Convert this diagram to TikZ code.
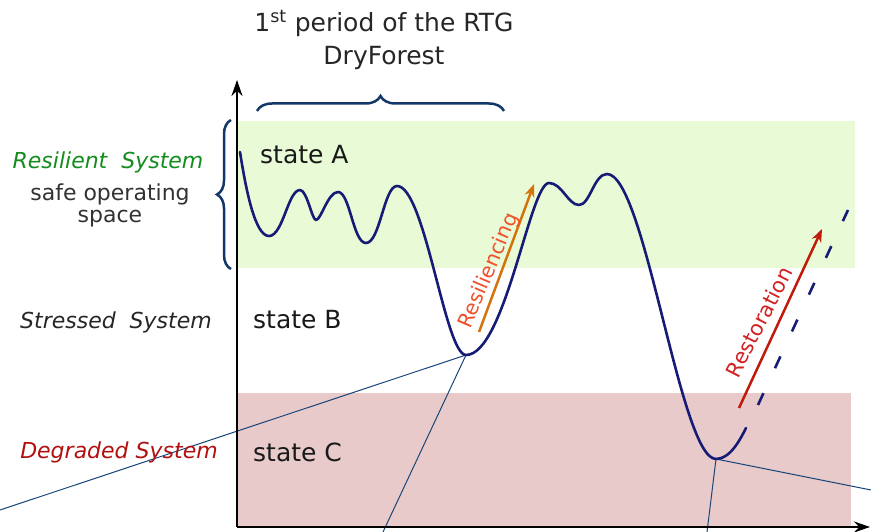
\documentclass[tikz,border=0pt]{standalone}
\usepackage{fontspec}
\setmainfont{DejaVu Sans}
\usetikzlibrary{arrows.meta,decorations.pathreplacing}
\definecolor{curvec}{RGB}{22,28,118}
\definecolor{bracec}{RGB}{20,55,105}
\definecolor{thinc}{RGB}{25,70,120}
\definecolor{greenband}{RGB}{232,250,214}
\definecolor{redband}{RGB}{233,202,202}
\definecolor{resilc}{RGB}{20,140,30}
\definecolor{degc}{RGB}{176,16,16}
\definecolor{greyc}{RGB}{50,50,50}
\definecolor{resarrow}{RGB}{212,115,11}
\definecolor{restext}{RGB}{240,80,42}
\definecolor{restarrow}{RGB}{192,26,10}
\definecolor{resttext}{RGB}{212,32,32}
\begin{document}
\begin{tikzpicture}[x=1pt,y=-1pt,
  lbl/.style={font=\fontsize{22}{24}\selectfont\itshape, inner sep=0pt},
  statelbl/.style={font=\fontsize{25}{28}\selectfont, anchor=west, inner sep=0pt, text=black!90},
  thin/.style={draw=thinc, line width=1pt},
  bracestyle/.style={draw=bracec, line width=2.5pt, decorate},
  axisline/.style={draw=black, line width=2pt, -{Stealth[length=16pt,width=11pt]}},
  arr/.style={line width=2.5pt, -{Stealth[length=13pt,width=10pt]}}
]
\useasboundingbox (0,0) rectangle (871,532);
% bands
\fill[greenband] (237,121) rectangle (855,268);
\fill[redband] (237,393) rectangle (851,527);
% key points
\coordinate (minB) at (466,355);
\coordinate (minC) at (716,459);
\coordinate (fL) at (0,510);
\coordinate (fB) at (383,532);
\coordinate (fC) at (707,532);
\coordinate (fR) at (871,490);
\draw[thin] (minB) -- (fL);
\draw[thin] (minB) -- (fB);
\draw[thin] (minC) -- (fC);
\draw[thin] (minC) -- (fR);
% curve
\draw[curvec, line width=2.6pt, line cap=round, line join=round]
 (240,152) .. controls (246,190) and (255,236) .. (269,236)
 .. controls (283,236) and (288,190) .. (300,190)
 .. controls (307,190) and (312,220) .. (316,220)
 .. controls (321,220) and (328,192) .. (338,192)
 .. controls (350,192) and (353,243) .. (366,243)
 .. controls (380,243) and (384,186) .. (397,186)
 .. controls (425,186) and (445,355) .. (minB)
 .. controls (505,355) and (530,183) .. (549,183)
 .. controls (562,183) and (568,205) .. (579,205)
 .. controls (590,205) and (594,174) .. (607,174)
 .. controls (645,174) and (680,459) .. (minC)
 .. controls (730,459) and (740,440) .. (746,428);
% dashed continuation
\coordinate (dS) at (758,405);
\coordinate (dE) at (848,210);
\draw[curvec, line width=2.6pt, dash pattern=on 13pt off 27.5pt] (dS) -- (dE);
% axes
\coordinate (origin) at (237,527);
\coordinate (ytip) at (237,80);
\coordinate (xtip) at (870,527);
\draw[axisline] (origin) -- (ytip);
\draw[axisline] (origin) -- (xtip);
% braces
\draw[bracestyle, decoration={brace, amplitude=15pt}] (257,111) -- (504,111);
\draw[bracestyle, decoration={brace, amplitude=14pt}] (231,269) -- (231,120);
% arrows
\coordinate (rs1) at (479,332);
\coordinate (rs2) at (534,184);
\draw[arr, resarrow] (rs1) -- (rs2);
\coordinate (rt1) at (739,408);
\coordinate (rt2) at (822,229);
\draw[arr, restarrow] (rt1) -- (rt2);
\node[rotate=67, text=restext, font=\fontsize{20.5}{22}\selectfont, inner sep=0pt] (tres) at (489,271) {Resiliencing};
\node[rotate=63, text=resttext, font=\fontsize{21}{22}\selectfont, inner sep=0pt] (trest) at (759,322) {Restoration};
% titles
\node[font=\fontsize{25}{33}\selectfont, text=black!85, align=center, inner sep=0pt] (title) at (384,40) {1\textsuperscript{st} period of the RTG\\DryForest};
% left labels
\node[lbl, text=resilc] (rs) at (108,162) {Resilient~ System};
\node[font=\fontsize{22}{22}\selectfont, text=greyc, align=center, inner sep=0pt] (safe) at (110,205) {safe operating\\space};
\node[lbl, text=black!85] (ss) at (116,322) {Stressed~ System};
\node[lbl, text=degc] (ds) at (119,452) {Degraded System};
% states
\node[statelbl] (sA) at (260,155) {state A};
\node[statelbl] (sB) at (253,320) {state B};
\node[statelbl] (sC) at (253,452) {state C};
\end{tikzpicture}
\end{document}
